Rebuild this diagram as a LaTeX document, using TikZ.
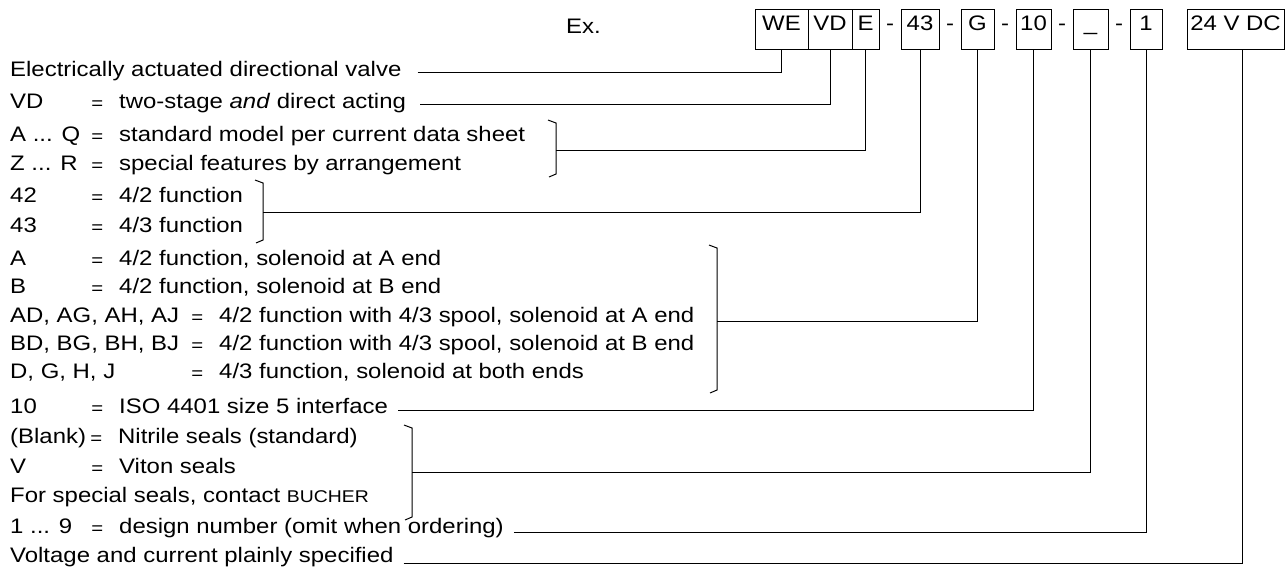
\documentclass[tikz,border=0pt]{standalone}
\usepackage{fontspec}
\setmainfont{Liberation Sans}[FakeStretch=1.14]
\usetikzlibrary{positioning}

% equals sign set low, as in the order code table
\newcommand{\eqs}{\raisebox{-0.09em}{\scalebox{0.85}{=}}}
\newcommand{\lab}[2][76pt]{\makebox[#1][l]{#2}\makebox[22pt]{\eqs}\hspace{11pt}}

\begin{document}
\begin{tikzpicture}[
        x=1pt, y=-1pt,
        every node/.style={font=\fontsize{21}{25}\selectfont},
        code/.style={draw, line width=1pt, outer sep=0pt, inner xsep=0pt,
                     minimum height=40pt, text height=0.72em, text depth=0.34em},
        sep/.style={outer sep=0pt, inner xsep=0pt, minimum width=22pt,
                    minimum height=40pt, text height=0.72em, text depth=0.34em},
        txt/.style={anchor=base west, inner sep=0pt},
        line/.style={line width=1pt}
    ]
    \useasboundingbox (0,0) rectangle (1288,574);

    % --- Type code ---
    \node[txt] (ex) at (566,33) {Ex.};
    \node[code, minimum width=53pt, anchor=west] (WE) at (755,29) {WE};
    \node[code, minimum width=44pt, right=0pt of WE] (VD) {VD};
    \node[code, minimum width=27pt, right=0pt of VD] (E) {E};
    \node[sep, right=0pt of E] (s1) {-};
    \node[code, minimum width=38pt, right=0pt of s1] (c43) {43};
    \node[sep, right=0pt of c43] (s2) {-};
    \node[code, minimum width=33pt, right=0pt of s2] (G) {G};
    \node[sep, right=0pt of G] (s3) {-};
    \node[code, minimum width=35pt, right=0pt of s3] (c10) {10};
    \node[sep, right=0pt of c10] (s4) {-};
    \node[code, minimum width=35pt, right=0pt of s4] (seal) {\_};
    \node[sep, right=0pt of seal] (s5) {-};
    \node[code, minimum width=32pt, right=0pt of s5] (c1) {1};
    \node[code, minimum width=97pt, right=25pt of c1] (volt24) {24 V DC};

    % --- Explanations ---
    \node[txt] (valve) at (10,76) {Electrically actuated directional valve};
    \node[txt] (stage) at (10,108) {\lab{VD}two-stage \textit{and} direct acting};
    \node[txt] (std) at (10,141) {\lab{A ... Q}standard model per current data sheet};
    \node[txt] (spec) at (10,170) {\lab{Z ... R}special features by arrangement};
    \node[txt] (f42) at (10,202) {\lab{42}4/2 function};
    \node[txt] (f43) at (10,232) {\lab{43}4/3 function};
    \node[txt] (solA) at (10,265) {\lab{A}4/2 function, solenoid at A end};
    \node[txt] (solB) at (10,293) {\lab{B}4/2 function, solenoid at B end};
    \node[txt] (spA) at (10,322) {\lab[176pt]{AD, AG, AH, AJ}4/2 function with 4/3 spool, solenoid at A end};
    \node[txt] (spB) at (10,350) {\lab[176pt]{BD, BG, BH, BJ}4/2 function with 4/3 spool, solenoid at B end};
    \node[txt] (both) at (10,378) {\lab[176pt]{D, G, H, J}4/3 function, solenoid at both ends};
    \node[txt] (iso) at (10,413) {\lab{10}ISO 4401 size 5 interface};
    \node[txt] (nbr) at (10,443) {\lab[75pt]{(Blank)}Nitrile seals (standard)};
    \node[txt] (vit) at (10,473) {\lab{V}Viton seals};
    \node[txt] (spc) at (10,502) {For special seals, contact {\fontsize{17}{17}\selectfont BUCHER}};
    \node[txt] (dsg) at (10,533) {\lab{1 ... 9}design number (omit when ordering)};
    \node[txt] (volt) at (10,562) {Voltage and current plainly specified};

    % --- Brackets ---
    \draw[line] (548,120) -- (556,123) -- (556,174) -- (549,177);
    \coordinate (bE) at (556,150);
    \draw[line] (255,180) -- (263,183) -- (263,240) -- (256,243);
    \coordinate (b43) at (263,212);
    \draw[line] (709,245) -- (717,248) -- (717,390) -- (710,393);
    \coordinate (bG) at (717,321);
    \draw[line] (404,425) -- (412,428) -- (412,517) -- (405,520);
    \coordinate (bS) at (412,472);

    % --- Leader lines ---
    \draw[line] ([xshift=16pt,yshift=4pt]valve.base east) -| (WE.south);
    \draw[line] ([xshift=14pt,yshift=4pt]stage.base east) -| (VD.south);
    \draw[line] (bE) -| (E.south);
    \draw[line] (b43) -| (c43.south);
    \draw[line] (bG) -| (G.south);
    \draw[line] ([xshift=10pt,yshift=3pt]iso.base east) -| (c10.south);
    \draw[line] (bS) -| (seal.south);
    \draw[line] ([xshift=10pt,yshift=1pt]dsg.base east) -| (c1.south);
    \draw[line] ([xshift=10pt,yshift=-1pt]volt.base east) -| ([xshift=7pt]volt24.south);

\end{tikzpicture}
\end{document}
